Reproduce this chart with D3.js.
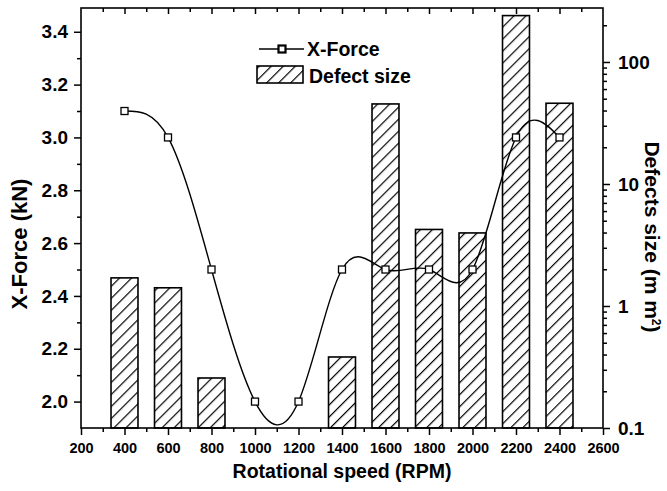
<!DOCTYPE html>
<html>
<head>
<meta charset="utf-8">
<script src="https://cdn.jsdelivr.net/npm/d3@7"></script>
<style>
  body { margin: 0; background: #fff; }
  svg { font-family: "Liberation Sans", Arial, sans-serif; font-weight: bold; }
</style>
</head>
<body>
<svg></svg>
<script>
// data
const speeds = [400, 600, 800, 1000, 1200, 1400, 1600, 1800, 2000, 2200, 2400];
const xForce = [3.1, 3.0, 2.5, 2.0, 2.0, 2.5, 2.5, 2.5, 2.5, 3.0, 3.0];
const barSpeeds = [400, 600, 800, 1400, 1600, 1800, 2000, 2200, 2400];
const defectSize = [1.70, 1.41, 0.257, 0.382, 45.3, 4.24, 3.97, 240, 45.9];
const xTicks = [200, 400, 600, 800, 1000, 1200, 1400, 1600, 1800, 2000, 2200, 2400, 2600];
const leftTicks = [2.0, 2.2, 2.4, 2.6, 2.8, 3.0, 3.2, 3.4];
const rightTicks = [0.1, 1, 10, 100];
const seriesNames = ['X-Force', 'Defect size'];

const width = 667;
const height = 491;
const plotL = 81, plotR = 603, plotT = 8, plotB = 428;

const xScale = d3.scaleLinear()
                    .domain([200, 2600])
                    .range([plotL, plotR])
const yLeft = d3.scaleLinear()
                    .domain([1.9, 3.49])
                    .range([plotB, plotT])
const yRight = d3.scaleLog()
                    .domain([0.1, 277])
                    .range([plotB, plotT])

const svg = d3.select('svg')
        .attr('width', width)
        .attr('height', height)

// hatch for the bars
svg.append('defs')
    .append('pattern')
        .attr('id', 'hatch')
        .attr('patternUnits', 'userSpaceOnUse')
        .attr('width', 8.5)
        .attr('height', 8.5)
        .attr('patternTransform', 'rotate(45)')
    .append('line')
        .attr('x1', 0).attr('y1', 0)
        .attr('x2', 0).attr('y2', 8.5)
        .attr('stroke', '#000')
        .attr('stroke-width', 2.4)

const barW = xScale(324) - xScale(200);

svg.append('g')
    .selectAll('rect')
    .data(barSpeeds)
    .enter()
    .append('rect')
        .attr('x', d => xScale(d) - barW / 2)
        .attr('y', (d, i) => yRight(defectSize[i]))
        .attr('width', barW)
        .attr('height', (d, i) => plotB - yRight(defectSize[i]))
        .attr('fill', 'url(#hatch)')
        .attr('stroke', '#000')
        .attr('stroke-width', 1.6)

// X-Force curve
const line = d3.line()
    .x(d => xScale(d))
    .y((d, i) => yLeft(xForce[i]))
    .curve(d3.curveNatural)

svg.append('path')
    .datum(speeds)
    .attr('d', line)
    .attr('fill', 'none')
    .attr('stroke', '#000')
    .attr('stroke-width', 1.4)

svg.append('g')
    .selectAll('rect')
    .data(speeds)
    .enter()
    .append('rect')
        .attr('x', d => xScale(d) - 3.5)
        .attr('y', (d, i) => yLeft(xForce[i]) - 3.5)
        .attr('width', 7)
        .attr('height', 7)
        .attr('fill', '#fff')
        .attr('stroke', '#000')
        .attr('stroke-width', 1.3)

// axes
const minorX = d3.range(300, 2600, 200);
const minorLeft = [2.1, 2.3, 2.5, 2.7, 2.9, 3.1, 3.3];
const minorRight = [];
[0.1, 1, 10, 100].forEach(dec => {
    for (let k = 2; k <= 9; k++) if (dec * k <= 277) minorRight.push(dec * k);
});

function styleAxis(g, fontSize) {
    g.select('.domain').remove();
    g.selectAll('line').attr('stroke', '#000').attr('stroke-width', 1.5);
    g.selectAll('text').attr('font-size', fontSize).attr('fill', '#000').attr('font-family', null);
}

svg.append('g')
    .attr('transform', 'translate(0,' + plotB + ')')
    .call(d3.axisBottom(xScale).tickValues(xTicks).tickSize(7).tickPadding(8).tickFormat(d3.format('d')))
    .call(g => styleAxis(g, '14.5px'))
svg.append('g')
    .attr('transform', 'translate(0,' + plotB + ')')
    .call(d3.axisBottom(xScale).tickValues(minorX).tickSize(4).tickFormat(''))
    .call(g => styleAxis(g, '0px'))

svg.append('g')
    .attr('transform', 'translate(0,' + plotT + ')')
    .call(d3.axisBottom(xScale).tickValues(xTicks.slice(1, -1)).tickSize(6).tickFormat(''))
    .call(g => styleAxis(g, '0px'))
svg.append('g')
    .attr('transform', 'translate(0,' + plotT + ')')
    .call(d3.axisBottom(xScale).tickValues(minorX).tickSize(4).tickFormat(''))
    .call(g => styleAxis(g, '0px'))

svg.append('g')
    .attr('transform', 'translate(' + plotL + ',0)')
    .call(d3.axisLeft(yLeft).tickValues(leftTicks).tickSize(7).tickPadding(6).tickFormat(d3.format('.1f')))
    .call(g => styleAxis(g, '19px'))
svg.append('g')
    .attr('transform', 'translate(' + plotL + ',0)')
    .call(d3.axisLeft(yLeft).tickValues(minorLeft).tickSize(4).tickFormat(''))
    .call(g => styleAxis(g, '0px'))

svg.append('g')
    .attr('transform', 'translate(' + plotR + ',0)')
    .call(d3.axisRight(yRight).tickValues(rightTicks).tickSize(7).tickPadding(8).tickFormat(d => String(d)))
    .call(g => styleAxis(g, '19px'))
svg.append('g')
    .attr('transform', 'translate(' + plotR + ',0)')
    .call(d3.axisRight(yRight).tickValues(minorRight).tickSize(4).tickFormat(''))
    .call(g => styleAxis(g, '0px'))

// frame
svg.append('rect')
    .attr('x', plotL)
    .attr('y', plotT)
    .attr('width', plotR - plotL)
    .attr('height', plotB - plotT)
    .attr('fill', 'none')
    .attr('stroke', '#000')
    .attr('stroke-width', 1.6)

// axis titles
svg.append('text')
    .attr('x', (plotL + plotR) / 2)
    .attr('y', 478)
    .attr('font-size', '19.5px')
    .style('text-anchor', 'middle')
    .text('Rotational speed (RPM)')

svg.append('text')
    .attr('transform', 'rotate(-90)')
    .attr('x', -244)
    .attr('y', 27)
    .attr('font-size', '22px')
    .style('text-anchor', 'middle')
    .text('X-Force (kN)')

const rt = svg.append('text')
    .attr('transform', 'translate(645,237) rotate(90)')
    .attr('font-size', '21px')
    .style('text-anchor', 'middle')
rt.append('tspan').text('Defects size (m m')
rt.append('tspan').attr('dy', -7).attr('font-size', '12px').text('2')
rt.append('tspan').attr('dy', 7).text(')')

// legend
const legend = svg.append('g')

legend.append('line')
    .attr('x1', 259).attr('x2', 304)
    .attr('y1', 49).attr('y2', 49)
    .attr('stroke', '#000')
    .attr('stroke-width', 1.6)
legend.append('rect')
    .attr('x', 278.5).attr('y', 45.5)
    .attr('width', 7).attr('height', 7)
    .attr('fill', '#fff')
    .attr('stroke', '#000')
    .attr('stroke-width', 2.2)
legend.append('rect')
    .attr('x', 257).attr('y', 66)
    .attr('width', 46).attr('height', 17)
    .attr('fill', 'url(#hatch)')
    .attr('stroke', '#000')
    .attr('stroke-width', 1.6)

legend.selectAll('text')
    .data(seriesNames)
    .enter()
    .append('text')
        .attr('x', (d, i) => i === 0 ? 307 : 309)
        .attr('y', (d, i) => i === 0 ? 56 : 82.5)
        .attr('font-size', '19.5px')
        .text(d => d)
</script>
</body>
</html>
